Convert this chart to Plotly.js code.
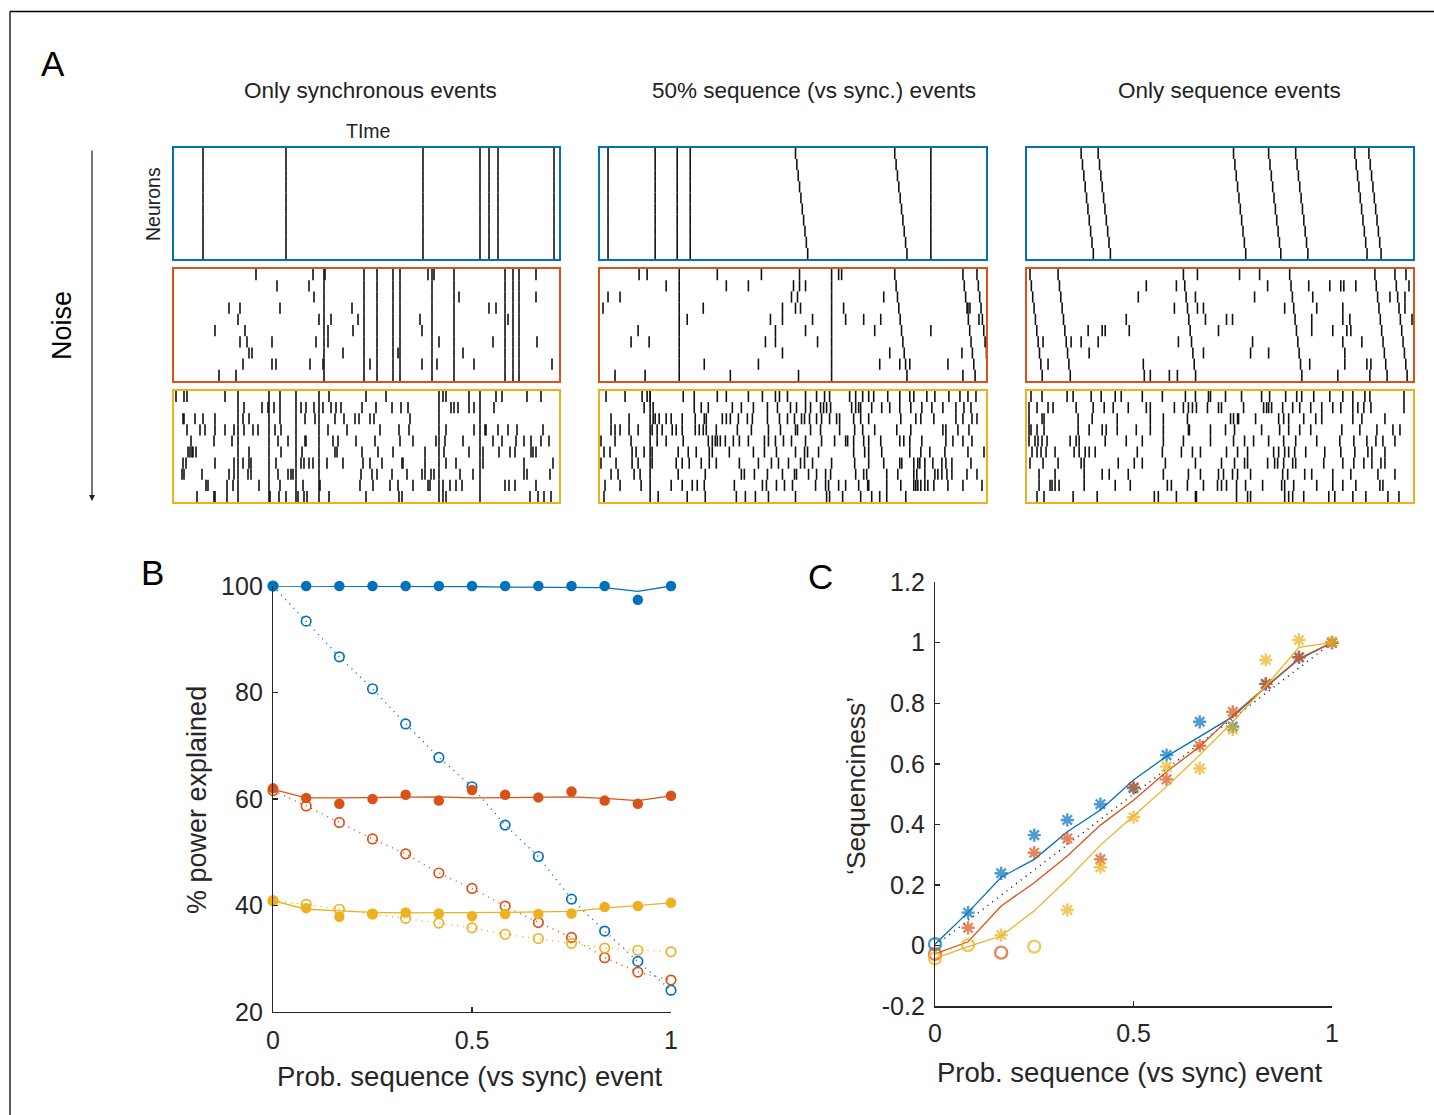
<!DOCTYPE html>
<html><head><meta charset="utf-8">
<script src="https://cdn.plot.ly/plotly-3.0.1.min.js"></script>
<style>html,body{margin:0;padding:0;background:#fff}#chart{width:1434px;height:1115px}</style>
</head><body><div id="chart"></div>
<script>
// ================= DATA =================
// ---- Panel A: spike rasters (10 neurons, time 0–385 a.u.) ----
const NEURONS = 10;
const TIME_MAX = 385;
const SEQ_STEP = 1.35;   // delay between successive neurons in a sequence event

// Row 1 (no noise)
const sync_1_1 = [29, 112, 249, 306, 315, 324, 380];
const seq_1_1 = [];
const sync_1_2 = [8, 55, 77, 90, 330];
const seq_1_2 = [195, 294];
const sync_1_3 = [];
const seq_1_3 = [54, 71, 206, 241, 268, 327, 341];

// Row 2 (medium noise)
const sync_2_1 = [150, 190, 203, 219, 226, 258, 280, 331, 339, 345];
const seq_2_1 = [];
const noise_2_1 = [
  [82,139,151,254,260,362],[103,135],[140,285,362],[55,66,106,178,315,322],
  [64,145,157,184,246,334],[41,71,154,179,248],[66,73,98,142,154,265,319,363],
  [75,78,169,224,289],[69,98,102,136,149,196,248,263,300,378],[45,62]];
const sync_2_2 = [79, 231];
const seq_2_2 = [294, 362, 376];
const noise_2_2 = [
  [39,47,117,161,199,238,241],[66,126,148,193,199,205],[8,20,191,197,283],
  [3,103,182,195,200,243,367,369],[87,170,182,212,245,263,280,378],[38,175,205,274,330],
  [31,49,165,175,217],[182,289,361],[104,158,279,299,309,347],[15,45,130,198,362]];
const sync_2_3 = [];
const seq_2_3 = [3, 31, 156, 262, 347, 367];
const noise_2_3 = [
  [170,212,232,378],[119,149,240,281,302,313,316,328,381],[111,168,227,285,362,377],
  [147,170,176,257,289,315,377],[99,178,199,205,284,315,322,384],
  [61,75,78,102,191,284,305,319,323],[16,44,54,71,151,225,315,334],[62,176,223,241,317],
  [21,116,282,317,339,343],[117,123,142,150,310,342]];

// Row 3 (high noise)
const sync_3_1 = [64, 95, 122, 145, 265, 306];
const seq_3_1 = [];
const noise_3_1 = [
  [2,10,13,51,106,155,192,212,269,272,295,322,328,353,367],
  [70,88,94,100,106,127,132,140,149,157,162,167,188,202,218,227,234,277,280,284,295,300,320],
  [9,10,21,29,41,69,75,106,131,141,161,170,181,185,196,200,236],
  [13,26,31,41,51,60,70,79,84,101,107,154,173,206,225,235,272,300,311,312,324,334,343,369],
  [17,40,58,104,114,131,132,159,164,182,201,226,239,262,271,289,319,328,342,350,357,367,375],
  [14,16,18,19,22,75,107,128,161,163,188,204,219,251,270,295,309,325,336,341,357,359,362],
  [9,12,41,60,69,75,77,102,127,130,135,139,153,169,189,196,208,228,229,251,272,282,309,350,379],
  [8,10,28,55,60,74,77,104,114,117,119,187,198,203,218,233,248,251,257,260,286,299,350,353,376],
  [32,34,53,59,85,106,129,146,186,199,216,224,239,254,256,269,276,282,288,331,335,341,362],
  [23,40,41,53,96,105,112,124,130,133,155,192,225,228,269,272,356,364,370,377]];
const sync_3_2 = [50];
const seq_3_2 = [];
const noise_3_2 = [
  [6,25,42,47,50,83,94,117,126,148,162,175,179,187,205,216,224,229,249,255,262,268,273,287,299,309,313,326,334,348,359,367,375],
  [44,53,94,101,108,132,141,153,167,177,190,196,205,210,220,223,226,230,251,255,258,260,271,281,289,299,310,321,331,342,355,363,370],
  [11,29,53,55,59,66,71,82,95,104,106,122,126,130,138,147,152,167,179,187,194,201,204,209,216,221,229,236,239,253,260,268,300,315,320,333,355,362,371,376],
  [11,15,20,29,38,52,57,62,72,76,82,95,99,103,106,116,137,151,168,180,195,197,210,220,239,254,262,274,296,310,342,345,357,368],
  [1,15,31,57,66,83,108,112,115,117,120,125,133,139,148,164,168,175,183,191,205,221,234,245,247,253,263,268,280,299,303,309,321,345,352,362,371],
  [4,10,32,36,44,52,78,88,96,109,112,129,153,164,176,195,204,207,218,253,264,268,281,309,320,329,344,367,383],
  [1,16,32,38,52,76,82,89,101,109,116,139,158,171,178,188,200,204,212,231,254,268,283,299,301,313,317,319,324,332,341,345,351,370],
  [11,18,34,40,78,105,141,144,154,167,182,194,196,208,216,225,230,255,263,266,286,297,313,316,324,334,337,341,346,351,366,376],
  [5,20,41,71,82,92,97,104,134,162,166,176,184,192,215,225,228,238,245,258,267,268,286,300,313,315,317,320,324,327,333,347,362,381],
  [4,58,87,105,136,145,155,168,195,226,229,242,260,271,279,286,305]];
const sync_3_3 = [];
const seq_3_3 = [];
const noise_3_3 = [
  [4,15,40,46,64,74,88,94,115,135,158,168,181,183,198,214,234,242,258,269,274,286,302,315,325,337,342,376],
  [2,10,21,26,49,66,77,86,101,119,123,147,156,161,165,169,180,191,194,216,236,239,241,244,255,265,272,283,294,305,313,325,330,336,343,376],
  [2,15,17,51,65,90,123,136,160,203,206,210,211,228,251,256,261,276,288,294,325,334,357],
  [2,4,10,17,51,62,75,79,90,109,123,136,161,162,183,198,207,234,252,261,272,283,314,332,349,365,372],
  [2,8,11,15,20,43,49,52,78,99,115,136,156,183,206,217,226,241,256,268,289,312,326,339,348,355,367],
  [5,10,14,19,28,47,52,58,62,68,110,135,154,165,173,199,210,220,246,251,257,261,267,278,297,313,327,340,344,357],
  [3,16,31,54,57,91,107,115,138,168,194,207,217,220,240,247,250,256,265,268,296,315,326,336,344,353,357],
  [12,28,57,75,82,101,136,161,173,191,196,205,210,223,255,260,277,284,305,323,350,367],
  [12,23,25,28,32,57,88,103,140,144,160,176,190,194,199,209,218,235,254,257,266,289,305,315,328,352,355],
  [10,17,46,70,127,131,149,168,169,209,220,223,257,261,265,276,301,307,325,338,360,371]];

// ---- Panels B & C: x = probability of a sequence (vs sync) event ----
const probSeq = [0, 0.0833, 0.1667, 0.25, 0.3333, 0.4167, 0.5, 0.5833, 0.6667, 0.75, 0.8333, 0.9167, 1];

// Panel B: % power explained
const bBlueFull      = [100,100,100,100,100,100,100,100,100,100,100,97.4,100];
const bBlueFullMean  = [100,100,100,100,100,100,99.9,99.8,99.8,99.7,99.7,99.0,100];
const bBlueSeq       = [100,93.4,86.7,80.7,74.1,67.8,62.3,55.1,49.2,41.2,35.2,29.5,24.1];
const bOrangeFull    = [62.0,60.2,59.1,60.0,60.8,59.7,61.7,60.8,60.3,61.4,59.7,59.1,60.6];
const bOrangeFullMean= [61.8,60.2,60.2,60.3,60.4,60.4,60.2,60.3,60.4,60.4,60.1,59.7,60.6];
const bOrangeSeq     = [61.6,58.7,55.6,52.5,49.7,46.1,43.2,39.9,36.8,34.0,30.2,27.5,26.0];
const bYellowFull    = [40.9,39.5,37.9,38.4,38.7,38.5,38.0,38.4,38.4,38.5,39.7,39.9,40.5];
const bYellowFullMean= [40.9,39.3,39.0,38.7,38.6,38.6,38.6,38.7,38.8,38.9,39.5,40.0,40.5];
const bYellowSeq     = [40.9,40.2,39.3,38.4,37.6,36.7,35.8,34.6,33.8,32.9,32.0,31.6,31.3];
const bTickVals = [20, 40, 60, 80, 100];

// Panel C: 'Sequenciness'
const cBlue       = [0.005,0.109,0.239,0.365,0.415,0.467,0.52,0.629,0.739,0.723,0.864,0.952,1.0];
const cBlueSig    = [0,1,1,1,1,1,1,1,1,1,1,1,1];
const cBlueLine   = [0.005,0.11,0.226,0.285,0.376,0.448,0.547,0.625,0.69,0.756,0.853,0.945,1.0];
const cOrange     = [-0.027,0.059,-0.023,0.307,0.354,0.285,0.523,0.549,0.660,0.772,0.864,0.952,1.0];
const cOrangeSig  = [0,1,0,1,1,1,1,1,1,1,1,1,1];
const cOrangeLine = [-0.027,0.013,0.131,0.208,0.296,0.398,0.48,0.574,0.657,0.761,0.855,0.948,1.0];
const cYellow     = [-0.042,0.002,0.035,-0.003,0.118,0.259,0.424,0.591,0.585,0.714,0.943,1.009,1.003];
const cYellowSig  = [0,0,1,0,1,1,1,1,1,1,1,1,1];
const cYellowLine = [-0.042,-0.003,0.032,0.115,0.219,0.332,0.428,0.525,0.629,0.739,0.857,0.985,1.0];
const cDiagonal   = [0, 0.0833, 0.1667, 0.25, 0.3333, 0.4167, 0.5, 0.5833, 0.6667, 0.75, 0.8333, 0.9167, 1];
const cTickVals = [-0.2, 0, 0.2, 0.4, 0.6, 0.8, 1, 1.2];
const cTickText = ['-0.2','0','0.2','0.4','0.6','0.8','1','1.2'];
const xTickVals = [0, 0.5, 1];
const xTickText = ['0','0.5','1'];

// ================= LAYOUT / DRAWING =================
const W = 1434, H = 1115;
const PX = p => p / W;
const PY = p => 1 - p / H;
const BLUE = '#0072BD', ORANGE = '#D95319', YELLOW = '#EDB120';
const TXT = '#262626';
const FONT = 'Liberation Sans, Arial, Helvetica, sans-serif';

const colPx = [[174,559],[600,986],[1027,1413]];
const rowPx = [[148,259],[269,381],[391,502]];
const rowColors = [BLUE, ORANGE, YELLOW];

const panels = [
  [sync_1_1, seq_1_1, null], [sync_1_2, seq_1_2, null], [sync_1_3, seq_1_3, null],
  [sync_2_1, seq_2_1, noise_2_1], [sync_2_2, seq_2_2, noise_2_2], [sync_2_3, seq_2_3, noise_2_3],
  [sync_3_1, seq_3_1, noise_3_1], [sync_3_2, seq_3_2, noise_3_2], [sync_3_3, seq_3_3, noise_3_3]
];

const traces = [];
const layout = {
  width: W, height: H, margin: {l:0, r:0, t:0, b:0},
  paper_bgcolor: '#fff', plot_bgcolor: 'rgba(0,0,0,0)',
  showlegend: false, font: {family: FONT, color: TXT},
  annotations: [], shapes: []
};
const axName = i => (i === 1 ? '' : String(i));

panels.forEach((p, k) => {
  const i = k + 1, r = Math.floor(k / 3), c = k % 3;
  const [sync, seq, noise] = p;
  const xs = [], ys = [];
  const add = (t, n) => { xs.push(t, t, null); ys.push(n - 0.5, n + 0.5, null); };
  for (let n = 1; n <= NEURONS; n++) {
    sync.forEach(t => add(t, n));
    seq.forEach(t0 => add(t0 + (n - 1) * SEQ_STEP, n));
    if (noise) noise[n - 1].forEach(t => add(t, n));
  }
  traces.push({type:'scatter', mode:'lines', x: xs, y: ys, xaxis:'x'+axName(i), yaxis:'y'+axName(i),
    line:{color:'#111', width:1.6}, hoverinfo:'skip', connectgaps:false});
  const common = {showgrid:false, zeroline:false, showticklabels:false, ticks:'', showline:true,
    mirror:true, linecolor: rowColors[r], linewidth:1.6, fixedrange:true};
  layout['xaxis'+axName(i)] = Object.assign({}, common, {domain:[PX(colPx[c][0]), PX(colPx[c][1])],
    range:[0, TIME_MAX], anchor:'y'+axName(i)});
  layout['yaxis'+axName(i)] = Object.assign({}, common, {domain:[PY(rowPx[r][1]), PY(rowPx[r][0])],
    range:[NEURONS + 0.5, 0.5], anchor:'x'+axName(i)});
});

// ---- Panel B (axis 10) ----
const axB = {showgrid:false, zeroline:false, showline:true, linecolor:TXT, linewidth:1.2,
  ticks:'inside', ticklen:5, tickwidth:1.2, tickcolor:TXT, tickfont:{size:25, color:TXT, family:FONT}};
layout.xaxis10 = Object.assign({}, axB, {domain:[PX(273), PX(671)], range:[0,1], anchor:'y10',
  tickmode:'array', tickvals:xTickVals, ticktext:xTickText, ticklabelstandoff:6});
layout.yaxis10 = Object.assign({}, axB, {domain:[PY(1012), PY(586)], range:[20,100], anchor:'x10',
  tickmode:'array', tickvals:bTickVals, ticktext:bTickVals.map(String), ticklabelstandoff:4});

function bSeries(full, mean, seqv, color) {
  traces.push({type:'scatter', mode:'lines', x:probSeq, y:mean, xaxis:'x10', yaxis:'y10',
    line:{color:color, width:1.3}, cliponaxis:false, hoverinfo:'skip'});
  traces.push({type:'scatter', mode:'markers', x:probSeq, y:full, xaxis:'x10', yaxis:'y10',
    marker:{color:color, size:10.5, symbol:'circle', line:{width:0}}, cliponaxis:false, hoverinfo:'skip'});
  traces.push({type:'scatter', mode:'lines+markers', x:probSeq, y:seqv, xaxis:'x10', yaxis:'y10',
    line:{color:color, width:1.5, dash:'1px,5px'},
    marker:{color:color, size:9.5, symbol:'circle-open', line:{color:color, width:1.7}},
    cliponaxis:false, hoverinfo:'skip'});
}
bSeries(bBlueFull, bBlueFullMean, bBlueSeq, BLUE);
bSeries(bOrangeFull, bOrangeFullMean, bOrangeSeq, ORANGE);
bSeries(bYellowFull, bYellowFullMean, bYellowSeq, YELLOW);

// ---- Panel C (axis 11) ----
layout.xaxis11 = Object.assign({}, axB, {domain:[PX(935), PX(1332)], range:[0,1], anchor:'y11',
  tickmode:'array', tickvals:xTickVals, ticktext:xTickText, ticklabelstandoff:4});
layout.yaxis11 = Object.assign({}, axB, {domain:[PY(1006.3), PY(582.1)], range:[-0.2,1.2], anchor:'x11',
  tickmode:'array', tickvals:cTickVals, ticktext:cTickText, ticklabelstandoff:4});

traces.push({type:'scatter', mode:'lines', x:probSeq, y:cDiagonal, xaxis:'x11', yaxis:'y11',
  line:{color:'#111', width:1.5, dash:'1px,5px'}, hoverinfo:'skip'});
function cSeries(vals, sig, line, color) {
  traces.push({type:'scatter', mode:'lines', x:probSeq, y:line, xaxis:'x11', yaxis:'y11',
    line:{color:color, width:1.3}, cliponaxis:false, hoverinfo:'skip'});
  traces.push({type:'scatter', mode:'markers', x:probSeq, y:vals, xaxis:'x11', yaxis:'y11',
    marker:{color:color, symbol: sig.map(s => s ? 'asterisk-open' : 'circle-open'),
      size: sig.map(s => s ? 11 : 12), line:{color:color, width:2.4}},
    cliponaxis:false, hoverinfo:'skip'});
}
cSeries(cBlue, cBlueSig, cBlueLine, BLUE);
cSeries(cOrange, cOrangeSig, cOrangeLine, ORANGE);
cSeries(cYellow, cYellowSig, cYellowLine, YELLOW);

// ---- Text ----
function txt(text, x, y, size, opts) {
  layout.annotations.push(Object.assign({text:text, x:PX(x), y:PY(y), xref:'paper', yref:'paper',
    showarrow:false, xanchor:'center', yanchor:'middle',
    font:{size:size, family:FONT, color:'#222'}}, opts || {}));
}
txt('A', 53, 64, 35, {font:{size:35, family:FONT, color:'#000'}});
txt('B', 152, 572, 35, {font:{size:35, family:FONT, color:'#000'}});
txt('C', 820, 576, 35, {font:{size:35, family:FONT, color:'#000'}});
txt('Only synchronous events', 370, 90, 22.5);
txt('50% sequence (vs sync.) events', 814, 90, 22.5);
txt('Only sequence events', 1229, 90, 22.5);
txt('TIme', 368, 131, 19.5);
txt('Neurons', 153, 204, 19.5, {textangle:-90});
txt('Noise', 62, 326, 27, {textangle:-90, font:{size:27, family:FONT, color:'#000'}});
txt('% power explained', 197, 800, 27, {textangle:-90, font:{size:27, family:FONT, color:TXT}});
txt('Prob. sequence (vs sync) event', 470, 1076, 27.5, {font:{size:27.5, family:FONT, color:TXT}});
txt('\u2018Sequenciness\u2019', 856, 786, 26.5, {textangle:-90, font:{size:26.5, family:FONT, color:TXT}});
txt('Prob. sequence (vs sync) event', 1130, 1072, 27.5, {font:{size:27.5, family:FONT, color:TXT}});

// Noise arrow
layout.annotations.push({x:PX(92), y:PY(501), xref:'paper', yref:'paper', text:'', showarrow:true,
  ax:0, ay:-352, arrowhead:2, arrowsize:1, arrowwidth:1.2, arrowcolor:'#222'});

// Figure frame (partially visible)
layout.shapes.push({type:'line', xref:'paper', yref:'paper', x0:PX(10), x1:1, y0:PY(11.5), y1:PY(11.5),
  line:{color:'#000', width:1.3}});
layout.shapes.push({type:'line', xref:'paper', yref:'paper', x0:PX(10), x1:PX(10), y0:PY(11.5), y1:0,
  line:{color:'#000', width:1.3}});

Plotly.newPlot('chart', traces, layout, {staticPlot:true, displayModeBar:false});
</script>
</body></html>
